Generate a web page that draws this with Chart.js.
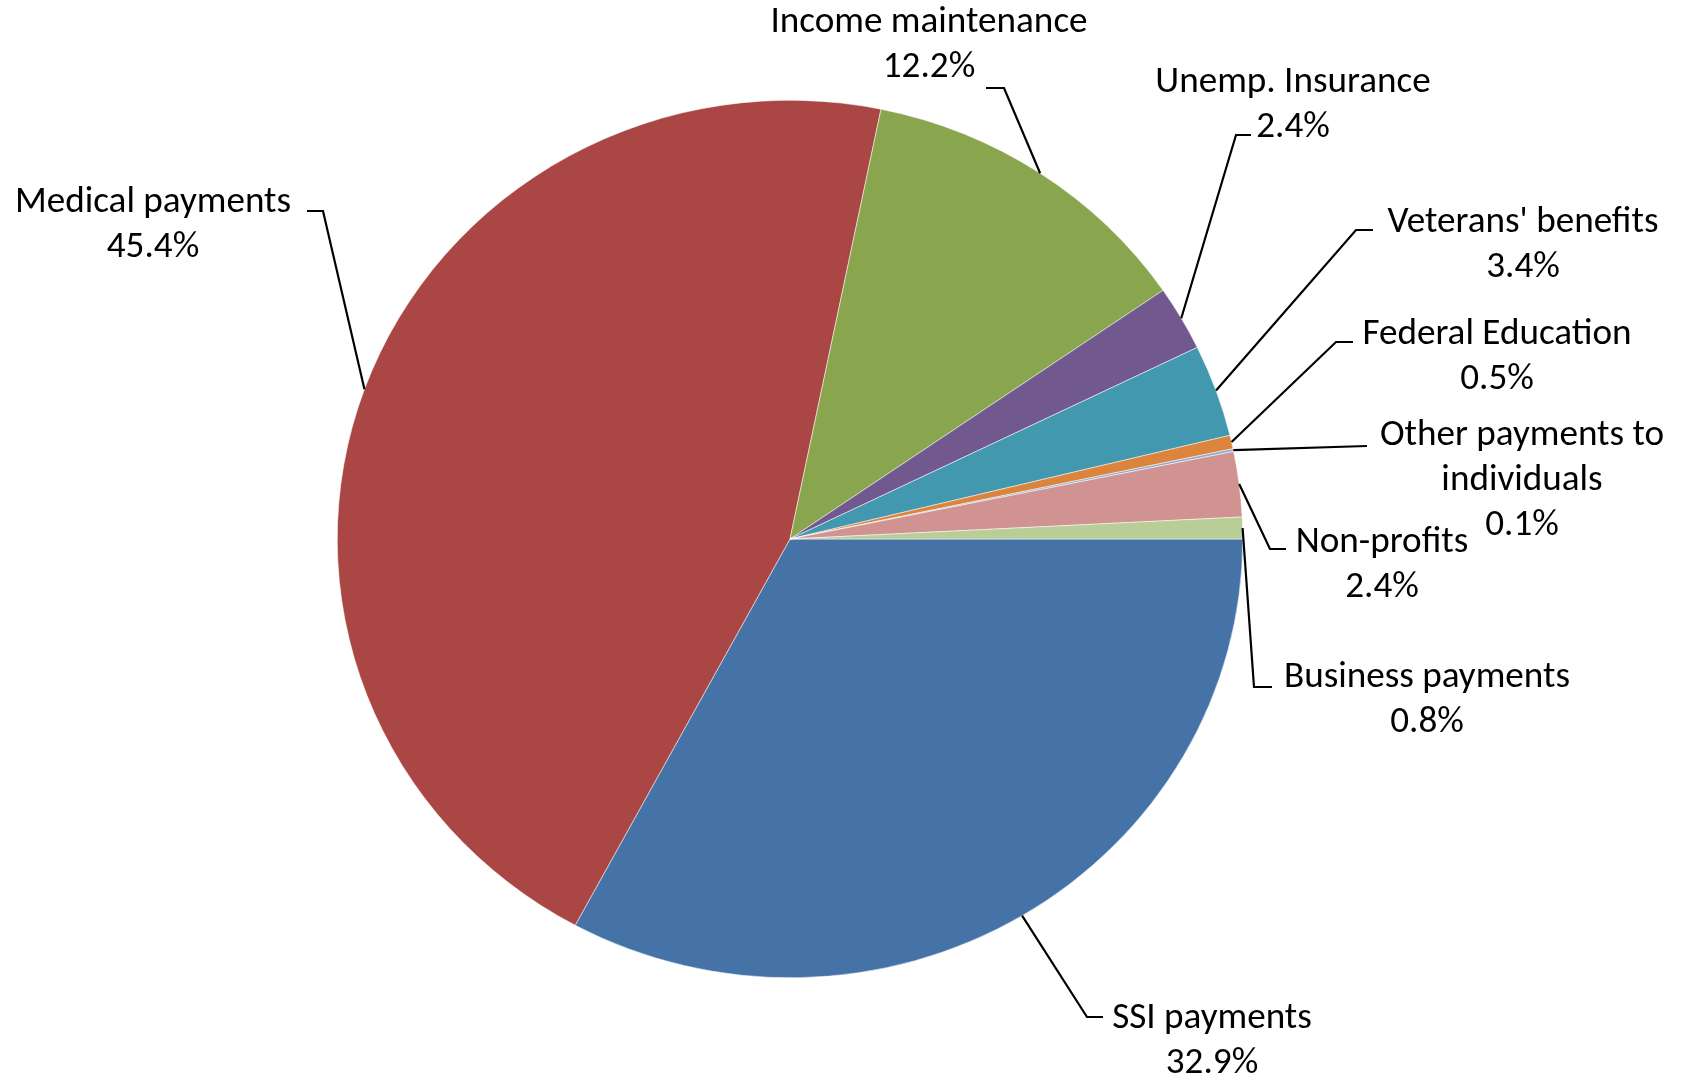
<!DOCTYPE html>
<html>
<head>
<meta charset="utf-8">
<script src="https://cdn.jsdelivr.net/npm/chart.js@4/dist/chart.umd.min.js"></script>
<style>
  html, body { margin: 0; padding: 0; background: #ffffff; }
  #wrap { position: relative; width: 1689px; height: 1078px; }
</style>
</head>
<body>
<div id="wrap"><canvas id="c" width="1689" height="1078"></canvas></div>
<script>
// ---- data ----
const categories = [
  "SSI payments", "Medical payments", "Income maintenance", "Unemp. Insurance",
  "Veterans' benefits", "Federal Education", "Other payments to individuals",
  "Non-profits", "Business payments"
];
const labelLines = [
  ["SSI payments"], ["Medical payments"], ["Income maintenance"], ["Unemp. Insurance"],
  ["Veterans' benefits"], ["Federal Education"], ["Other payments to", "individuals"],
  ["Non-profits"], ["Business payments"]
];
const shares = [32.9, 45.4, 12.2, 2.4, 3.4, 0.5, 0.1, 2.4, 0.8];
const colors = ["#4572A7", "#AA4643", "#89A54E", "#71588F", "#4198AF", "#DB843D", "#93A9CF", "#D19392", "#B9CD96"];

// ---- label layout (text centre x, first baseline y, leader elbow points) ----
const labelX = [1212, 153, 929, 1293, 1523, 1497, 1522, 1382, 1427];
const labelY = [1028, 212, 32, 92, 232, 344, 445, 552, 687];
const leaderPts = [
  [[1087, 1017], [1103, 1017]],
  [[323, 211], [307, 211]],
  [[1004, 88], [986, 88]],
  [[1236, 135], [1251, 135]],
  [[1356, 230], [1373, 230]],
  [[1336, 342], [1353, 342]],
  [[1367, 446]],
  [[1270, 549], [1286, 549]],
  [[1254, 687], [1272, 687]]
];
const lineHeight = 45;
const FONT = '36px Carlito, Lato, "Liberation Sans", sans-serif';
const STRETCH_X = 453 / 439;

const stretchPlugin = {
  id: 'stretch',
  beforeDatasetsDraw(chart) {
    const a = chart.getDatasetMeta(0).data[0];
    const ctx = chart.ctx;
    ctx.save();
    ctx.translate(a.x, 0);
    ctx.scale(STRETCH_X, 1);
    ctx.translate(-a.x, 0);
  },
  afterDatasetsDraw(chart) {
    chart.ctx.restore();
  }
};

const labelPlugin = {
  id: 'pieLabels',
  afterDraw(chart) {
    const ctx = chart.ctx;
    const meta = chart.getDatasetMeta(0);
    ctx.save();
    meta.data.forEach((arc, i) => {
      const mid = (arc.startAngle + arc.endAngle) / 2;
      const ex = arc.x + arc.outerRadius * STRETCH_X * Math.cos(mid);
      const ey = arc.y + arc.outerRadius * Math.sin(mid);
      ctx.beginPath();
      ctx.moveTo(ex, ey);
      leaderPts[i].forEach(p => ctx.lineTo(p[0], p[1]));
      ctx.strokeStyle = '#000000';
      ctx.lineWidth = 2.2;
      ctx.lineJoin = 'miter';
      ctx.stroke();
      const lines = labelLines[i].concat([shares[i].toFixed(1) + '%']);
      ctx.font = FONT;
      ctx.fillStyle = '#000000';
      ctx.textAlign = 'center';
      ctx.textBaseline = 'alphabetic';
      lines.forEach((t, k) => {
        ctx.save();
        ctx.translate(labelX[i], labelY[i] + k * lineHeight);
        ctx.scale(STRETCH_X, 1);
        ctx.fillText(t, 0, 0);
        ctx.restore();
      });
    });
    ctx.restore();
  }
};

const bgPlugin = {
  id: 'bg',
  beforeDraw(chart) {
    const ctx = chart.ctx;
    ctx.save();
    ctx.fillStyle = '#ffffff';
    ctx.fillRect(0, 0, chart.width, chart.height);
    ctx.restore();
  }
};

new Chart(document.getElementById('c'), {
  type: 'pie',
  data: {
    labels: categories,
    datasets: [{
      data: shares,
      backgroundColor: colors,
      borderWidth: 0.5,
      borderColor: '#ffffff'
    }]
  },
  options: {
    responsive: false,
    animation: false,
    rotation: 90,
    layout: { padding: { top: 100, bottom: 100, left: 351, right: 460 } },
    plugins: {
      legend: { display: false },
      tooltip: { enabled: false }
    }
  },
  plugins: [bgPlugin, stretchPlugin, labelPlugin]
});
</script>
</body>
</html>
